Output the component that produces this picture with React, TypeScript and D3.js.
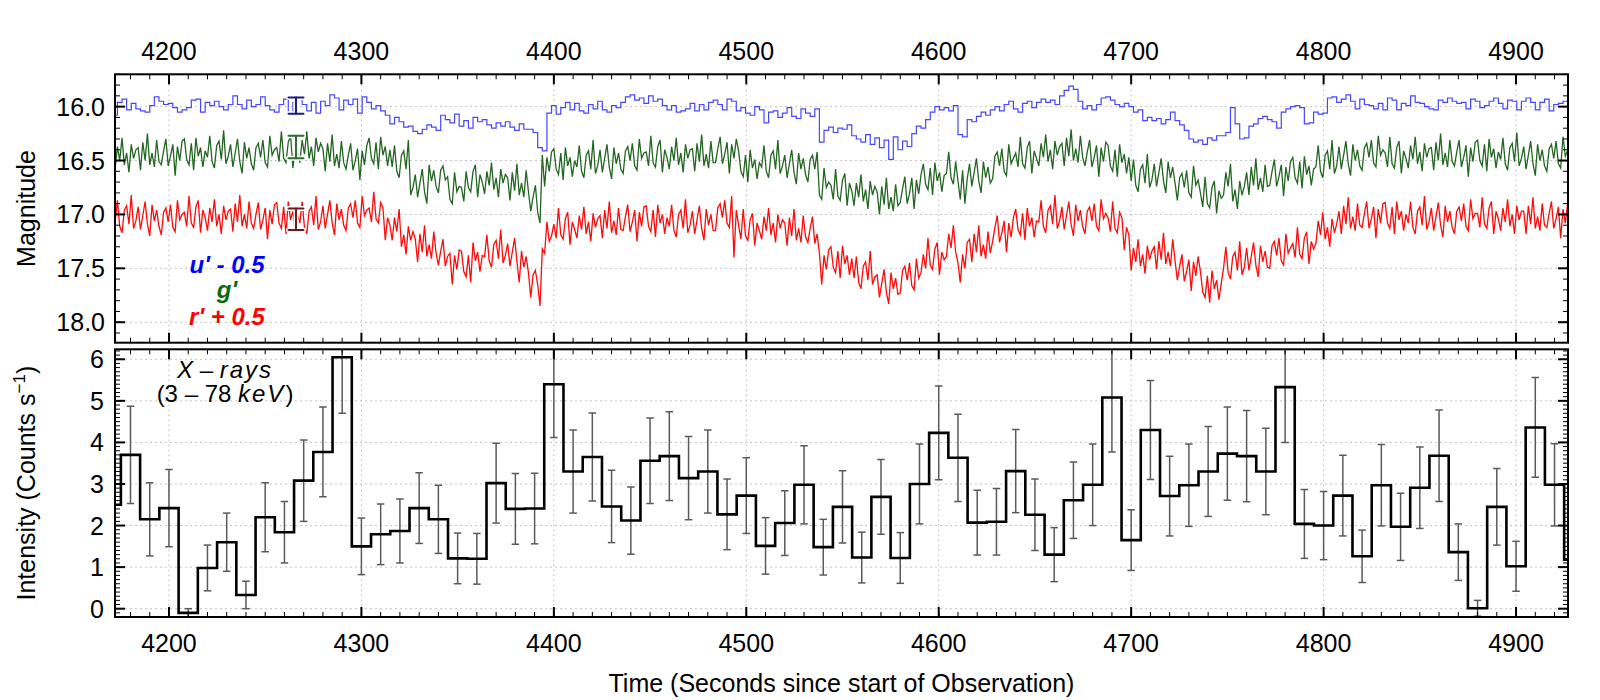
import React from 'react'
import * as d3 from 'd3'

// optical light curves (magnitudes), sampled on a regular time grid
const U_START = 4172
const U_STEP = 2.4
const uMag = [
  16.08, 15.96, 15.93, 16.03, 15.97, 16.02, 16.04, 16.05, 15.99, 15.91,
  15.95, 15.98, 15.97, 16.01, 16.05, 16.03, 16.01, 15.94, 15.93, 16.05,
  15.96, 15.99, 15.95, 16.00, 16.03, 15.98, 15.90, 15.98, 16.02, 15.94,
  16.00, 15.98, 15.91, 15.99, 16.03, 16.05, 15.98, 15.93, 16.06, 15.96,
  15.92, 15.98, 16.04, 15.96, 16.06, 15.95, 15.99, 15.89, 15.92, 16.03,
  15.94, 15.98, 15.93, 16.06, 15.91, 15.96, 16.02, 15.99, 16.04, 16.08,
  16.16, 16.10, 16.14, 16.19, 16.18, 16.23, 16.25, 16.21, 16.17, 16.19,
  16.22, 16.08, 16.12, 16.15, 16.07, 16.18, 16.13, 16.20, 16.10, 16.14,
  16.12, 16.17, 16.20, 16.15, 16.18, 16.14, 16.19, 16.22, 16.16, 16.21,
  16.21, 16.24, 16.38, 16.41, 16.06, 15.99, 16.07, 16.01, 15.96, 16.03,
  15.97, 16.04, 16.06, 15.98, 16.02, 15.95, 16.03, 16.05, 15.99, 16.01,
  15.96, 15.91, 15.89, 15.94, 15.92, 15.97, 15.90, 15.95, 15.93, 15.99,
  16.03, 15.99, 16.05, 16.04, 16.02, 15.97, 16.04, 15.98, 16.03, 15.96,
  15.94, 15.98, 16.03, 15.93, 15.95, 16.04, 16.01, 16.06, 16.08, 16.00,
  16.03, 16.15, 16.05, 16.04, 16.10, 16.06, 16.01, 16.09, 16.11, 16.02,
  16.06, 16.09, 16.02, 16.33, 16.22, 16.19, 16.24, 16.20, 16.21, 16.17,
  16.27, 16.30, 16.33, 16.26, 16.35, 16.29, 16.38, 16.31, 16.49, 16.28,
  16.40, 16.32, 16.37, 16.25, 16.18, 16.20, 16.12, 16.05, 16.00, 16.03,
  16.01, 16.04, 15.99, 16.26, 16.28, 16.12, 16.14, 16.09, 16.05, 16.08,
  16.03, 16.00, 16.04, 15.98, 15.95, 16.02, 16.05, 15.97, 15.95, 16.01,
  15.96, 15.93, 15.96, 15.94, 15.98, 15.90, 15.85, 15.81, 15.84, 15.95,
  16.02, 15.99, 16.03, 15.98, 15.92, 15.91, 15.94, 15.98, 16.00, 15.97,
  16.00, 16.05, 16.03, 16.13, 16.10, 16.13, 16.11, 16.16, 16.12, 16.05,
  16.13, 16.17, 16.22, 16.30, 16.33, 16.31, 16.35, 16.29, 16.31, 16.27,
  16.27, 16.24, 16.01, 16.16, 16.30, 16.29, 16.18, 16.16, 16.11, 16.09,
  16.12, 16.14, 16.20, 16.05, 16.02, 16.00, 15.99, 16.01, 16.16, 16.15,
  16.05, 16.07, 16.06, 15.92, 15.91, 15.96, 15.93, 15.89, 15.95, 16.02,
  15.93, 15.98, 15.99, 16.02, 15.97, 16.03, 15.92, 15.94, 16.03, 15.97,
  15.99, 15.90, 15.96, 15.97, 16.00, 16.02, 16.03, 15.94, 15.96, 15.92,
  15.95, 15.97, 15.96, 16.02, 15.93, 15.95, 16.01, 15.99, 15.95, 15.92,
  15.97, 16.02, 15.94, 15.95, 16.03, 15.95, 15.92, 15.96, 16.03, 15.96,
  15.93, 16.04, 15.98, 15.97, 15.95, 15.99, 16.02, 15.94, 15.96, 15.98,
]

const GR_START = 4172
const GR_STEP = 1.2
const gMag = [
  16.58, 16.37, 16.50, 16.29, 16.54, 16.43, 16.61, 16.35, 16.48, 16.40,
  16.38, 16.59, 16.33, 16.50, 16.25, 16.54, 16.43, 16.56, 16.31, 16.51,
  16.54, 16.41, 16.30, 16.55, 16.46, 16.35, 16.64, 16.37, 16.50, 16.32,
  16.30, 16.49, 16.54, 16.34, 16.59, 16.29, 16.46, 16.38, 16.56, 16.41,
  16.47, 16.27, 16.51, 16.57, 16.36, 16.32, 16.49, 16.22, 16.53, 16.46,
  16.35, 16.56, 16.43, 16.30, 16.51, 16.62, 16.33, 16.48, 16.38, 16.53,
  16.59, 16.38, 16.34, 16.47, 16.31, 16.52, 16.56, 16.27, 16.45, 16.40,
  16.38, 16.51, 16.23, 16.48, 16.52, 16.33, 16.27, 16.57, 16.36, 16.43,
  16.52, 16.31, 16.44, 16.23, 16.48, 16.37, 16.55, 16.29, 16.42, 16.34,
  16.39, 16.60, 16.34, 16.51, 16.26, 16.55, 16.44, 16.57, 16.32, 16.52,
  16.58, 16.45, 16.34, 16.59, 16.50, 16.39, 16.68, 16.41, 16.54, 16.36,
  16.29, 16.48, 16.53, 16.33, 16.58, 16.28, 16.45, 16.37, 16.55, 16.40,
  16.56, 16.36, 16.60, 16.66, 16.45, 16.41, 16.58, 16.31, 16.82, 16.75,
  16.63, 16.84, 16.71, 16.58, 16.79, 16.90, 16.54, 16.69, 16.59, 16.74,
  16.80, 16.59, 16.55, 16.68, 16.65, 16.86, 16.90, 16.61, 16.79, 16.74,
  16.75, 16.88, 16.60, 16.75, 16.79, 16.60, 16.54, 16.84, 16.63, 16.70,
  16.81, 16.60, 16.73, 16.52, 16.77, 16.66, 16.84, 16.58, 16.71, 16.63,
  16.66, 16.87, 16.61, 16.78, 16.53, 16.82, 16.71, 16.84, 16.59, 16.79,
  16.97, 16.84, 16.73, 16.98, 17.08, 16.45, 16.74, 16.47, 16.60, 16.42,
  16.39, 16.58, 16.63, 16.43, 16.68, 16.38, 16.55, 16.47, 16.65, 16.50,
  16.56, 16.36, 16.60, 16.66, 16.45, 16.41, 16.58, 16.31, 16.62, 16.55,
  16.40, 16.61, 16.48, 16.35, 16.56, 16.67, 16.38, 16.53, 16.43, 16.58,
  16.62, 16.41, 16.37, 16.50, 16.34, 16.55, 16.59, 16.30, 16.48, 16.43,
  16.42, 16.55, 16.27, 16.52, 16.56, 16.37, 16.31, 16.61, 16.40, 16.47,
  16.58, 16.37, 16.50, 16.29, 16.54, 16.43, 16.61, 16.35, 16.48, 16.40,
  16.39, 16.60, 16.34, 16.51, 16.26, 16.55, 16.44, 16.57, 16.32, 16.52,
  16.52, 16.39, 16.28, 16.53, 16.44, 16.33, 16.62, 16.35, 16.48, 16.30,
  16.41, 16.60, 16.65, 16.45, 16.70, 16.40, 16.57, 16.49, 16.67, 16.52,
  16.56, 16.36, 16.60, 16.66, 16.45, 16.41, 16.58, 16.31, 16.62, 16.55,
  16.45, 16.66, 16.53, 16.40, 16.61, 16.72, 16.43, 16.58, 16.48, 16.63,
  16.70, 16.49, 16.45, 16.58, 16.42, 16.82, 16.86, 16.57, 16.75, 16.70,
  16.73, 16.86, 16.58, 16.83, 16.87, 16.68, 16.62, 16.92, 16.71, 16.78,
  16.92, 16.71, 16.84, 16.63, 16.88, 16.77, 16.95, 16.69, 16.82, 16.74,
  16.79, 17.00, 16.74, 16.91, 16.66, 16.95, 16.84, 16.97, 16.72, 16.92,
  16.89, 16.76, 16.65, 16.90, 16.81, 16.66, 16.95, 16.68, 16.81, 16.63,
  16.53, 16.72, 16.77, 16.57, 16.82, 16.52, 16.69, 16.61, 16.79, 16.64,
  16.62, 16.42, 16.66, 16.72, 16.51, 16.69, 16.86, 16.59, 16.90, 16.67,
  16.53, 16.74, 16.61, 16.48, 16.69, 16.80, 16.51, 16.66, 16.56, 16.71,
  16.67, 16.46, 16.42, 16.55, 16.39, 16.60, 16.64, 16.35, 16.53, 16.48,
  16.43, 16.56, 16.28, 16.53, 16.57, 16.38, 16.32, 16.62, 16.41, 16.48,
  16.55, 16.34, 16.47, 16.26, 16.51, 16.40, 16.58, 16.32, 16.45, 16.37,
  16.34, 16.55, 16.29, 16.46, 16.21, 16.50, 16.39, 16.52, 16.27, 16.47,
  16.55, 16.42, 16.31, 16.56, 16.47, 16.36, 16.65, 16.38, 16.51, 16.33,
  16.36, 16.55, 16.60, 16.40, 16.65, 16.35, 16.52, 16.44, 16.62, 16.47,
  16.69, 16.49, 16.73, 16.79, 16.58, 16.54, 16.71, 16.44, 16.75, 16.68,
  16.53, 16.74, 16.61, 16.48, 16.69, 16.80, 16.51, 16.66, 16.56, 16.71,
  16.87, 16.66, 16.62, 16.75, 16.59, 16.80, 16.84, 16.55, 16.73, 16.68,
  16.80, 16.93, 16.65, 16.90, 16.94, 16.75, 16.69, 16.99, 16.78, 16.85,
  16.82, 16.61, 16.74, 16.53, 16.88, 16.77, 16.95, 16.69, 16.82, 16.74,
  16.61, 16.82, 16.56, 16.73, 16.48, 16.77, 16.66, 16.79, 16.54, 16.74,
  16.73, 16.60, 16.49, 16.74, 16.65, 16.54, 16.83, 16.56, 16.69, 16.51,
  16.47, 16.66, 16.71, 16.51, 16.76, 16.46, 16.63, 16.55, 16.73, 16.58,
  16.56, 16.36, 16.60, 16.66, 16.45, 16.41, 16.58, 16.31, 16.62, 16.55,
  16.37, 16.58, 16.45, 16.32, 16.53, 16.64, 16.35, 16.50, 16.40, 16.55,
  16.59, 16.38, 16.34, 16.47, 16.31, 16.52, 16.56, 16.27, 16.45, 16.40,
  16.43, 16.56, 16.28, 16.53, 16.57, 16.38, 16.32, 16.62, 16.41, 16.48,
  16.57, 16.36, 16.49, 16.28, 16.53, 16.42, 16.60, 16.34, 16.47, 16.39,
  16.38, 16.59, 16.33, 16.50, 16.25, 16.54, 16.43, 16.56, 16.31, 16.51,
  16.55, 16.42, 16.31, 16.56, 16.47, 16.36, 16.65, 16.38, 16.51, 16.33,
  16.31, 16.50, 16.55, 16.35, 16.60, 16.30, 16.47, 16.39, 16.57, 16.42,
  16.49, 16.29, 16.53, 16.59, 16.38, 16.34, 16.51, 16.24, 16.55, 16.48,
  16.37, 16.58, 16.45, 16.32, 16.53, 16.64, 16.35, 16.50, 16.40, 16.55,
  16.60, 16.39, 16.35, 16.48, 16.32, 16.53, 16.57, 16.28, 16.46, 16.41,
]

const rMag = [
  17.07, 16.87, 17.11, 17.17, 16.96, 16.92, 17.09, 16.82, 17.13, 17.06,
  16.93, 17.14, 17.01, 16.88, 17.09, 17.20, 16.91, 17.06, 16.96, 17.11,
  17.19, 16.98, 16.94, 17.07, 16.91, 17.12, 17.16, 16.87, 17.05, 17.00,
  16.98, 17.11, 16.83, 17.08, 17.12, 16.93, 16.87, 17.17, 16.96, 17.03,
  17.15, 16.94, 17.07, 16.86, 17.11, 17.00, 17.18, 16.92, 17.05, 16.97,
  16.95, 17.16, 16.90, 17.07, 16.82, 17.11, 17.00, 17.13, 16.88, 17.08,
  17.13, 17.00, 16.89, 17.14, 17.05, 16.94, 17.23, 16.96, 17.09, 16.91,
  16.89, 17.08, 17.13, 16.93, 17.18, 16.88, 17.05, 16.97, 17.15, 17.00,
  17.08, 16.88, 17.12, 17.18, 16.97, 16.93, 17.10, 16.83, 17.14, 17.07,
  16.92, 17.13, 17.00, 16.87, 17.08, 17.19, 16.90, 17.05, 16.95, 17.10,
  17.15, 16.94, 16.90, 17.03, 16.87, 17.08, 17.12, 16.83, 17.01, 16.96,
  16.94, 17.07, 16.79, 17.04, 17.08, 16.89, 16.94, 17.24, 17.03, 17.10,
  17.24, 17.03, 17.16, 16.95, 17.30, 17.19, 17.37, 17.11, 17.24, 17.16,
  17.23, 17.44, 17.18, 17.35, 17.10, 17.39, 17.28, 17.41, 17.16, 17.36,
  17.47, 17.34, 17.23, 17.48, 17.39, 17.36, 17.65, 17.38, 17.51, 17.33,
  17.34, 17.53, 17.58, 17.38, 17.63, 17.26, 17.43, 17.35, 17.53, 17.38,
  17.39, 17.19, 17.43, 17.49, 17.28, 17.24, 17.41, 17.14, 17.45, 17.38,
  17.27, 17.48, 17.35, 17.22, 17.43, 17.63, 17.34, 17.49, 17.39, 17.54,
  17.77, 17.56, 17.52, 17.65, 17.85, 17.32, 17.36, 17.07, 17.25, 17.20,
  17.09, 17.22, 16.94, 17.19, 17.23, 17.04, 16.98, 17.28, 17.07, 17.14,
  17.22, 17.01, 17.14, 16.93, 17.18, 17.07, 17.25, 16.99, 17.12, 17.04,
  17.01, 17.22, 16.96, 17.13, 16.88, 17.17, 17.06, 17.19, 16.94, 17.14,
  17.15, 17.02, 16.91, 17.16, 17.07, 16.96, 17.25, 16.98, 17.11, 16.93,
  16.92, 17.11, 17.16, 16.96, 17.21, 16.91, 17.08, 17.00, 17.18, 17.03,
  17.11, 16.91, 17.15, 17.21, 17.00, 16.96, 17.13, 16.86, 17.17, 17.10,
  16.97, 17.18, 17.05, 16.92, 17.13, 17.24, 16.95, 17.10, 17.00, 17.15,
  17.15, 16.94, 16.90, 17.03, 16.87, 17.08, 17.12, 16.83, 17.40, 16.96,
  17.10, 17.23, 16.95, 17.20, 17.24, 17.05, 16.99, 17.29, 17.08, 17.15,
  17.23, 17.02, 17.15, 16.94, 17.19, 17.08, 17.26, 17.00, 17.13, 17.05,
  17.08, 17.29, 17.03, 17.20, 16.95, 17.24, 17.13, 17.26, 17.01, 17.21,
  17.26, 17.13, 17.02, 17.27, 17.18, 17.36, 17.65, 17.38, 17.51, 17.33,
  17.30, 17.49, 17.54, 17.34, 17.59, 17.29, 17.46, 17.38, 17.56, 17.41,
  17.59, 17.39, 17.63, 17.69, 17.48, 17.44, 17.61, 17.34, 17.65, 17.58,
  17.56, 17.77, 17.64, 17.51, 17.72, 17.83, 17.54, 17.69, 17.59, 17.74,
  17.73, 17.52, 17.48, 17.61, 17.45, 17.66, 17.70, 17.41, 17.59, 17.54,
  17.37, 17.50, 17.22, 17.47, 17.51, 17.32, 17.26, 17.56, 17.35, 17.42,
  17.39, 17.18, 17.31, 17.10, 17.35, 17.45, 17.63, 17.37, 17.50, 17.26,
  17.23, 17.44, 17.18, 17.35, 17.10, 17.39, 17.28, 17.41, 17.16, 17.36,
  17.25, 17.12, 17.01, 17.26, 17.17, 17.06, 17.35, 17.08, 17.21, 17.03,
  16.95, 17.14, 17.19, 16.99, 17.24, 16.94, 17.11, 17.03, 17.21, 17.06,
  17.07, 16.87, 17.11, 17.17, 16.96, 16.92, 17.09, 16.82, 17.13, 17.06,
  16.93, 17.14, 17.01, 16.88, 17.09, 17.20, 16.91, 17.06, 16.96, 17.11,
  17.18, 16.97, 16.93, 17.06, 16.90, 17.11, 17.15, 16.86, 17.04, 16.99,
  17.03, 17.16, 16.88, 17.13, 17.17, 16.98, 17.03, 17.33, 17.12, 17.19,
  17.52, 17.31, 17.44, 17.23, 17.48, 17.37, 17.55, 17.29, 17.42, 17.34,
  17.30, 17.51, 17.25, 17.42, 17.17, 17.46, 17.35, 17.48, 17.23, 17.43,
  17.61, 17.48, 17.37, 17.62, 17.53, 17.42, 17.71, 17.44, 17.57, 17.39,
  17.53, 17.72, 17.77, 17.57, 17.82, 17.52, 17.69, 17.61, 17.79, 17.64,
  17.50, 17.30, 17.54, 17.60, 17.39, 17.35, 17.52, 17.25, 17.56, 17.49,
  17.31, 17.52, 17.39, 17.26, 17.47, 17.58, 17.29, 17.44, 17.34, 17.49,
  17.50, 17.29, 17.25, 17.38, 17.22, 17.43, 17.47, 17.18, 17.36, 17.31,
  17.27, 17.40, 17.12, 17.37, 17.41, 17.22, 17.16, 17.46, 17.25, 17.32,
  17.27, 17.06, 17.19, 16.98, 17.23, 17.12, 17.30, 17.04, 17.17, 17.09,
  16.97, 17.18, 16.92, 17.09, 16.84, 17.13, 17.02, 17.15, 16.90, 17.10,
  17.12, 16.99, 16.88, 17.13, 17.04, 16.93, 17.22, 16.95, 17.08, 16.90,
  16.89, 17.08, 17.13, 16.93, 17.18, 16.88, 17.05, 16.97, 17.15, 17.00,
  17.08, 16.88, 17.12, 17.18, 16.97, 16.93, 17.10, 16.83, 17.14, 17.07,
  16.94, 17.15, 17.02, 16.89, 17.10, 17.21, 16.92, 17.07, 16.97, 17.12,
  17.18, 16.97, 16.93, 17.06, 16.90, 17.11, 17.15, 16.86, 17.04, 16.99,
  16.99, 17.12, 16.84, 17.09, 17.13, 16.94, 16.88, 17.18, 16.97, 17.04,
  17.15, 16.94, 17.07, 16.86, 17.11, 17.00, 17.18, 16.92, 17.05, 16.97,
  16.97, 17.18, 16.92, 17.09, 16.84, 17.13, 17.02, 17.15, 16.90, 17.10,
  17.12, 16.99, 16.88, 17.13, 17.04, 16.93, 17.22, 16.95, 17.08, 16.90,
]

// X-ray light curve, 10 s bins (centres 4170 ... 4930)
const xrCentre = d3.range(4170, 4931, 10)
const xrRate = [
  2.50, 3.70, 2.15, 2.42, -0.10, 0.98, 1.60, 0.33, 2.20, 1.84,
  3.08, 3.77, 6.05, 1.50, 1.79, 1.87, 2.42, 2.15, 1.21, 1.20,
  3.02, 2.40, 2.41, 5.40, 3.30, 3.65, 2.46, 2.12, 3.56, 3.67,
  3.14, 3.30, 2.27, 2.72, 1.51, 2.06, 2.98, 1.48, 2.45, 1.23,
  2.69, 1.22, 3.00, 4.23, 3.63, 2.07, 2.09, 3.31, 2.26, 1.30,
  2.61, 2.98, 5.08, 1.65, 4.30, 2.71, 2.97, 3.30, 3.73, 3.67,
  3.30, 5.33, 2.04, 2.00, 2.72, 1.26, 2.97, 1.97, 2.91, 3.68,
  1.36, 0.01, 2.45, 1.02, 4.36, 2.98, 1.18,
]
const xrErr = [
  0.95, 1.17, 0.88, 0.93, 0.10, 0.55, 0.70, 0.33, 0.83, 0.74,
  0.98, 1.08, 1.35, 0.68, 0.73, 0.77, 0.85, 0.82, 0.61, 0.61,
  0.96, 0.85, 0.85, 1.28, 1.00, 1.06, 0.87, 0.81, 1.03, 1.07,
  1.00, 1.00, 0.85, 0.91, 0.68, 0.78, 0.94, 0.67, 0.87, 0.61,
  0.90, 0.61, 0.96, 1.13, 1.05, 0.78, 0.80, 1.00, 0.86, 0.65,
  0.92, 0.98, 1.31, 0.73, 1.19, 0.96, 0.99, 1.08, 1.12, 1.10,
  1.04, 1.33, 0.83, 0.82, 0.97, 0.63, 0.98, 0.81, 0.98, 1.10,
  0.68, 0.19, 0.92, 0.60, 1.20, 0.99, 0.62,
]

// typical photometric errors shown near t = 4266
const markTime = 4266
const markMag = [15.99, 16.375, 17.044]
const markErr = [0.075, 0.104, 0.1]
const markColor = ['#1c1c80', '#2b6e2b', '#6e1a1a']

const timeTicks = [4200, 4300, 4400, 4500, 4600, 4700, 4800, 4900]
const magTicks = [16.0, 16.5, 17.0, 17.5, 18.0]
const rateTicks = [0, 1, 2, 3, 4, 5, 6]

const W = 1600
const H = 700
const L = 115
const R = 1568
const TOP1 = 74.3
const BOT1 = 342.7
const TOP2 = 349.3
const BOT2 = 617
const FONT = '"Liberation Sans", Arial, Helvetica, sans-serif'

const x = d3.scaleLinear().domain([4171.95, 4927]).range([L, R])
const yMag = d3.scaleLinear().domain([15.7, 18.19]).range([TOP1, BOT1])
const yRate = d3.scaleLinear().domain([-0.2, 6.24]).range([BOT2, TOP2])

const timeMinor = d3.range(4180, 4927, 10)

function seriesPath(times: number[], vals: number[], y: d3.ScaleLinear<number, number>,
  curve: d3.CurveFactory) {
  const line = d3.line<number>()
    .x((_, i) => x(times[i]))
    .y(v => y(v))
    .curve(curve)
  return line(vals) || ''
}

function Grid({ top, bottom, y, major, clip }: {
  top: number, bottom: number, y: d3.ScaleLinear<number, number>,
  major: number[], clip: string
}) {
  return (
    <g>
      <defs>
        <clipPath id={clip}>
          <rect x={L} y={top} width={R - L} height={bottom - top} />
        </clipPath>
      </defs>
      {timeTicks.map(t => (
        <line key={'gv' + t} x1={x(t)} x2={x(t)} y1={top} y2={bottom}
          stroke="#c4c4c4" strokeWidth={1} strokeDasharray="2,3" />
      ))}
      {major.map(v => (
        <line key={'gh' + v} x1={L} x2={R} y1={y(v)} y2={y(v)}
          stroke="#c4c4c4" strokeWidth={1} strokeDasharray="2,3" />
      ))}
    </g>
  )
}

function Frame({ top, bottom, y, major, minor }: {
  top: number, bottom: number, y: d3.ScaleLinear<number, number>,
  major: number[], minor: number[]
}) {
  return (
    <g stroke="#000" fill="none">
      {timeMinor.map(t => (
        <g key={'tx' + t}>
          <line x1={x(t)} x2={x(t)} y1={top} y2={top + 5} strokeWidth={1} />
          <line x1={x(t)} x2={x(t)} y1={bottom} y2={bottom - 5} strokeWidth={1} />
        </g>
      ))}
      {timeTicks.map(t => (
        <g key={'tX' + t}>
          <line x1={x(t)} x2={x(t)} y1={top} y2={top + 10} strokeWidth={2} />
          <line x1={x(t)} x2={x(t)} y1={bottom} y2={bottom - 10} strokeWidth={2} />
        </g>
      ))}
      {minor.map(v => (
        <g key={'ty' + v}>
          <line x1={L} x2={L + 5} y1={y(v)} y2={y(v)} strokeWidth={1} />
          <line x1={R} x2={R - 5} y1={y(v)} y2={y(v)} strokeWidth={1} />
        </g>
      ))}
      {major.map(v => (
        <g key={'tY' + v}>
          <line x1={L} x2={L + 10} y1={y(v)} y2={y(v)} strokeWidth={2} />
          <line x1={R} x2={R - 10} y1={y(v)} y2={y(v)} strokeWidth={2} />
        </g>
      ))}
      <rect x={L} y={top} width={R - L} height={bottom - top} strokeWidth={2} />
    </g>
  )
}

export default function App() {
  const uTimes = uMag.map((_, i) => U_START + i * U_STEP)
  const grTimes = gMag.map((_, i) => GR_START + i * GR_STEP)
  const magMinor = d3.range(157, 182).map(v => v / 10)
  const rateMinor = d3.range(-1, 63).map(v => v / 10)
  const capW = 7.5
  const mcap = 7.5

  return (
    <div style={{ position: 'absolute', left: 0, top: 0, background: '#fff' }}>
      <svg width={W} height={H} style={{ display: 'block', fontFamily: FONT }}>
        <rect width={W} height={H} fill="#fff" />

        {/* top panel: optical magnitudes */}
        <Grid top={TOP1} bottom={BOT1} y={yMag} major={magTicks} clip="clipTop" />
        <g clipPath="url(#clipTop)" fill="none">
          <path d={seriesPath(uTimes, uMag, yMag, d3.curveStep)} stroke="#4646ff" strokeWidth={1.2} />
          <path d={seriesPath(grTimes, gMag, yMag, d3.curveLinear)} stroke="#0a550a" strokeOpacity={0.9} strokeWidth={1.3} />
          <path d={seriesPath(grTimes, rMag, yMag, d3.curveLinear)} stroke="#ff0a0a" strokeWidth={1.3} />
          {markMag.map((m, i) => {
            const cx = x(markTime)
            const y1 = yMag(m - markErr[i])
            const y2 = yMag(m + markErr[i])
            return (
              <g key={'mk' + i} strokeLinecap="round">
                <g stroke="#fff" strokeWidth={5}>
                  <line x1={cx} x2={cx} y1={y1} y2={y2} />
                  <line x1={cx - mcap} x2={cx + mcap} y1={y1} y2={y1} />
                  <line x1={cx - mcap} x2={cx + mcap} y1={y2} y2={y2} />
                </g>
                <g stroke={markColor[i]} strokeWidth={2}>
                  <line x1={cx} x2={cx} y1={y1} y2={y2} />
                  <line x1={cx - mcap} x2={cx + mcap} y1={y1} y2={y1} />
                  <line x1={cx - mcap} x2={cx + mcap} y1={y2} y2={y2} />
                </g>
              </g>
            )
          })}
        </g>
        <Frame top={TOP1} bottom={BOT1} y={yMag} major={magTicks} minor={magMinor} />

        {/* bottom panel: X-ray rate */}
        <Grid top={TOP2} bottom={BOT2} y={yRate} major={rateTicks} clip="clipBot" />
        <g clipPath="url(#clipBot)" fill="none">
          {xrCentre.map((t, i) => {
            const cx = x(t)
            const y1 = yRate(xrRate[i] + xrErr[i])
            const y2 = yRate(xrRate[i] - xrErr[i])
            return (
              <g key={'eb' + i} stroke="#5a5a5a" strokeWidth={1.5}>
                <line x1={cx} x2={cx} y1={y1} y2={y2} />
                <line x1={cx - capW / 2} x2={cx + capW / 2} y1={y1} y2={y1} />
                <line x1={cx - capW / 2} x2={cx + capW / 2} y1={y2} y2={y2} />
              </g>
            )
          })}
          <path d={seriesPath(xrCentre, xrRate, yRate, d3.curveStep)} stroke="#000" strokeWidth={2.6} />
        </g>
        <Frame top={TOP2} bottom={BOT2} y={yRate} major={rateTicks} minor={rateMinor} />

        {/* tick labels */}
        <g fontSize={25} fill="#000">
          {timeTicks.map(t => (
            <text key={'lt' + t} x={x(t)} y={60} textAnchor="middle">{t}</text>
          ))}
          {timeTicks.map(t => (
            <text key={'lb' + t} x={x(t)} y={652} textAnchor="middle">{t}</text>
          ))}
          {magTicks.map(v => (
            <text key={'lm' + v} x={105} y={yMag(v) + 9} textAnchor="end">{v.toFixed(1)}</text>
          ))}
          {rateTicks.map(v => (
            <text key={'lr' + v} x={104} y={yRate(v) + 9} textAnchor="end">{v}</text>
          ))}
        </g>

        {/* axis titles */}
        <g fontSize={25} fill="#000">
          <text x={841.5} y={692} textAnchor="middle">Time (Seconds since start of Observation)</text>
          <text transform={`translate(35,${(TOP1 + BOT1) / 2}) rotate(-90)`} textAnchor="middle">Magnitude</text>
          <text transform={`translate(35,${(TOP2 + BOT2) / 2}) rotate(-90)`} textAnchor="middle">
            Intensity (Counts s<tspan dy={-10} fontSize={17}>−1</tspan><tspan dy={10}>)</tspan>
          </text>
        </g>

        {/* band labels */}
        <g fontSize={24} fontWeight="bold" fontStyle="italic" textAnchor="middle">
          <text x={227} y={273} fill="#0000ff">u' - 0.5</text>
          <text x={227} y={298} fill="#0b6b0b">g'</text>
          <text x={227} y={325} fill="#ff0000">r' + 0.5</text>
        </g>

        <g fontSize={24} fill="#000" textAnchor="middle">
          <text x={225} y={378}>
            <tspan fontStyle="italic">X</tspan>
            <tspan> – </tspan>
            <tspan fontStyle="italic" letterSpacing={2}>rays</tspan>
          </text>
          <text x={225} y={402}>
            (3 – 78 <tspan fontStyle="italic" letterSpacing={2}>keV</tspan>)
          </text>
        </g>
      </svg>
    </div>
  )
}
